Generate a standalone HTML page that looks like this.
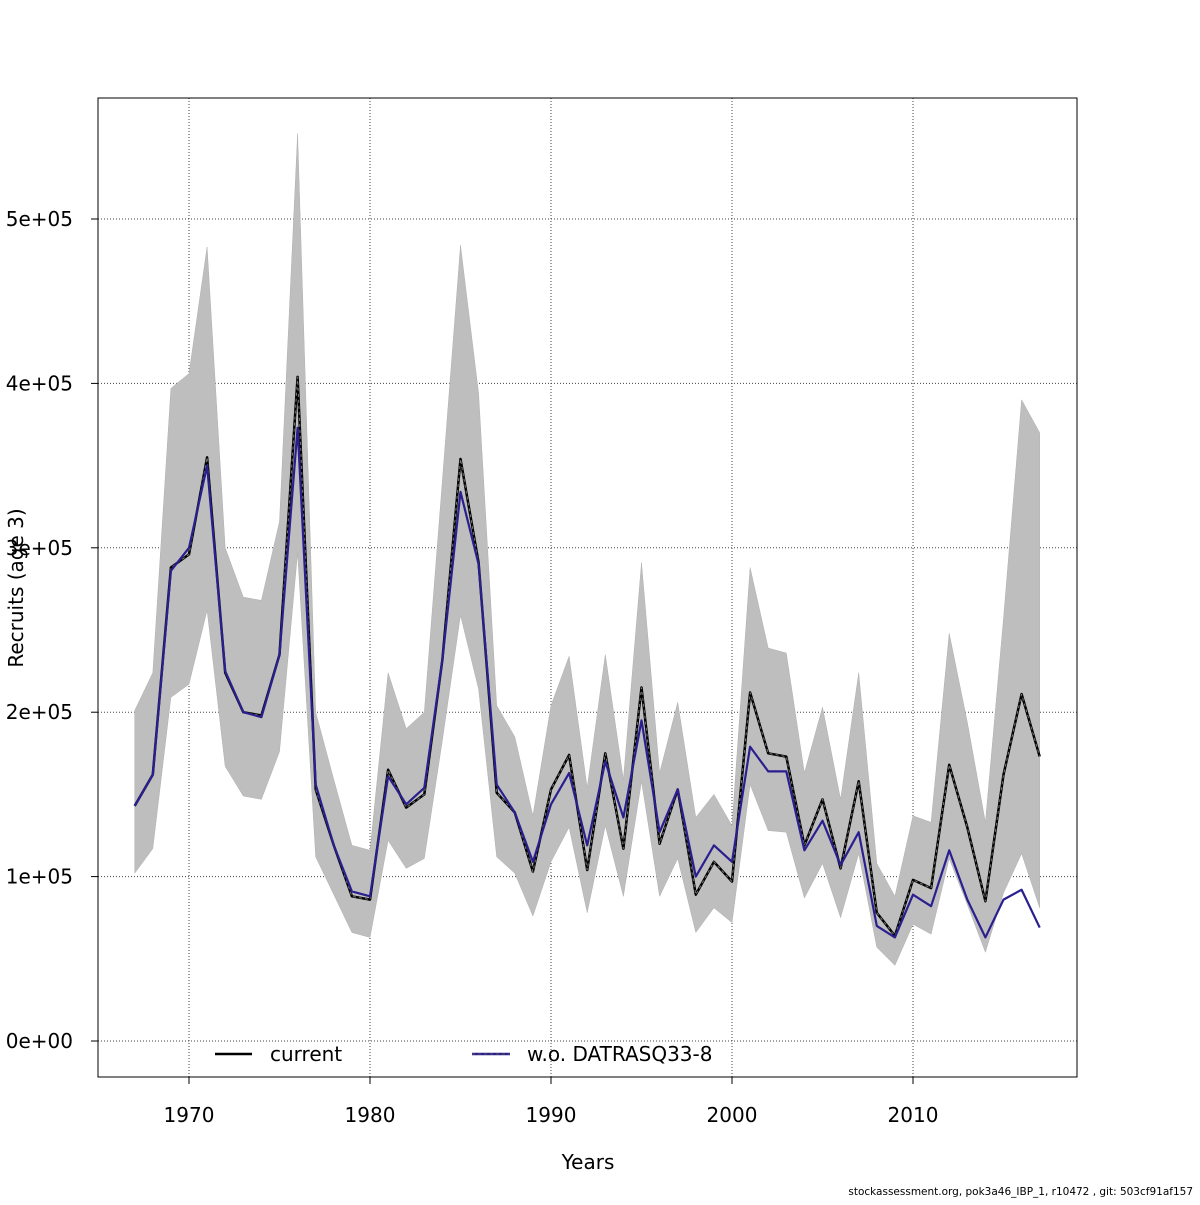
<!DOCTYPE html>
<html><head><meta charset="utf-8"><style>
html,body{margin:0;padding:0;background:#fff;}
svg text{font-family:"DejaVu Sans","Liberation Sans",sans-serif;}
</style></head><body>
<svg id="chart" width="1200" height="1200" xmlns="http://www.w3.org/2000/svg">
<rect width="1200" height="1200" fill="#fff"/>
<g id="grid"></g>
<g id="band"></g>
<g id="lines"></g>
<rect x="98" y="98" width="979" height="979" fill="none" stroke="#000" stroke-width="1"/>
<g id="axes"></g>
<text x="588" y="1169" font-size="20" text-anchor="middle">Years</text>
<text transform="translate(23,588) rotate(-90)" font-size="20" text-anchor="middle">Recruits (age 3)</text>
<g>
<g>
<line x1="215" y1="1054" x2="252" y2="1054" stroke="#000" stroke-width="2.5"/>
<text x="270" y="1061" font-size="20">current</text></g>
<g>
<line x1="472" y1="1054" x2="510" y2="1054" stroke="#2a1f8f" stroke-width="2.5"/>
<line x1="472" y1="1054" x2="510" y2="1054" stroke="#555" stroke-width="1" stroke-dasharray="3,3"/>
<text x="527" y="1061" font-size="20">w.o. DATRASQ33-8</text></g>
</g>
<text x="1193" y="1195" font-size="10.5" text-anchor="end">stockassessment.org, pok3a46_IBP_1, r10472 , git: 503cf91af157</text>
</svg>
<script>
const years = [1967,1968,1969,1970,1971,1972,1973,1974,1975,1976,1977,1978,1979,1980,1981,1982,1983,1984,1985,1986,1987,1988,1989,1990,1991,1992,1993,1994,1995,1996,1997,1998,1999,2000,2001,2002,2003,2004,2005,2006,2007,2008,2009,2010,2011,2012,2013,2014,2015,2016,2017];
const current = [143,162,288,296,355,224,200,198,235,404,153,119,88,86,165,142,150,232,354,291,151,139,103,153,174,104,175,117,215,120,153,89,109,97,212,175,173,119,147,105,158,78,64,98,93,168,130,85,162,211,173];
const woDatras = [143,162,286,300,350,225,200,197,235,373,156,119,91,88,161,144,154,232,334,290,156,139,109,144,163,119,170,136,195,127,153,100,119,109,179,164,164,116,134,107,127,70,63,89,82,116,86,63,86,92,69];
const upper = [201,224,397,406,483,300,270,268,316,552,200,159,119,116,224,190,200,341,484,394,204,185,137,204,234,154,235,159,291,163,206,136,150,131,288,239,236,163,203,147,224,108,88,137,133,248,194,133,257,390,370];
const lower = [102,117,209,217,262,167,149,147,176,297,112,89,66,63,122,105,111,183,259,214,112,102,76,109,130,78,131,88,158,88,111,66,81,72,156,128,127,87,108,75,114,57,46,71,65,111,83,54,90,114,81];
const yTicks = [0,100000,200000,300000,400000,500000];
const yTickLabels = ["0e+00","1e+05","2e+05","3e+05","4e+05","5e+05"];
const xTicks = [1970,1980,1990,2000,2010];

const NS="http://www.w3.org/2000/svg";
const X = yr => 189 + (yr-1970)*18.1;
const Y = v => 1041 - v/100000*164.4;
function mk(tag, attrs, parent){const e=document.createElementNS(NS,tag);for(const k in attrs)e.setAttribute(k,attrs[k]);parent.appendChild(e);return e;}
const grid=document.getElementById('grid'), axes=document.getElementById('axes'), band=document.getElementById('band'), lines=document.getElementById('lines');

yTicks.forEach((t,i)=>{
  const g=mk('line',{x1:98,x2:1077,y1:Y(t),y2:Y(t),stroke:'#444','stroke-width':1,'stroke-dasharray':'1,2'},grid);
  
  
  const tk=mk('line',{x1:91,x2:98,y1:Y(t),y2:Y(t),stroke:'#000'},axes);
  
  
  const tx=mk('text',{x:73,y:Y(t)+7,'font-size':20,'text-anchor':'end'},axes);
  tx.textContent=yTickLabels[i];
  
  
});
xTicks.forEach(t=>{
  const g=mk('line',{x1:X(t),x2:X(t),y1:98,y2:1077,stroke:'#444','stroke-width':1,'stroke-dasharray':'1,2'},grid);
  
  
  const tk=mk('line',{x1:X(t),x2:X(t),y1:1077,y2:1084,stroke:'#000'},axes);
  
  
  const tx=mk('text',{x:X(t),y:1122,'font-size':20,'text-anchor':'middle'},axes);
  tx.textContent=String(t);
  
  
});

let pts=years.map((y,i)=>X(y)+','+Y(upper[i]*1000));
for(let i=years.length-1;i>=0;i--) pts.push(X(years[i])+','+Y(lower[i]*1000));
const poly=mk('polygon',{points:pts.join(' '),fill:'#bebebe',stroke:'#b0b0b0','stroke-width':0.5},band);



const cp=years.map((y,i)=>X(y)+','+Y(current[i]*1000)).join(' ');
const c1=mk('polyline',{points:cp,fill:'none',stroke:'#000','stroke-width':2.5,'stroke-linejoin':'round'},lines);


const c2=mk('polyline',{points:cp,fill:'none',stroke:'#777','stroke-width':1,'stroke-dasharray':'3,3'},lines);


const bp=years.map((y,i)=>X(y)+','+Y(woDatras[i]*1000)).join(' ');
const b1=mk('polyline',{points:bp,fill:'none',stroke:'#2a1f8f','stroke-width':2.2,'stroke-linejoin':'round'},lines);


</script>
</body></html>
